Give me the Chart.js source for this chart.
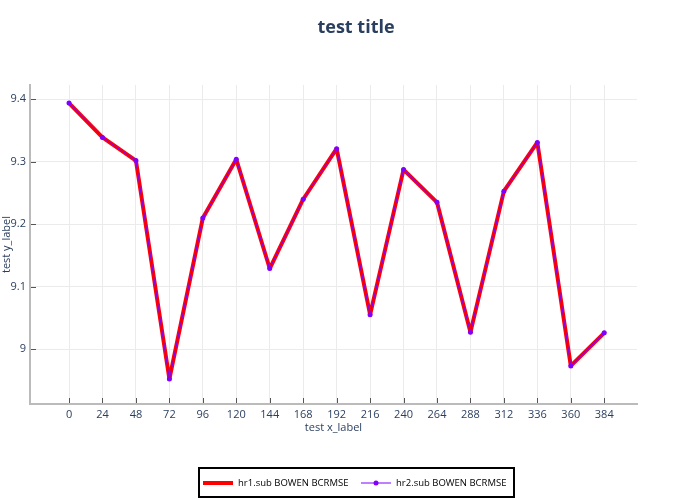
<!DOCTYPE html>
<html>
<head>
<meta charset="utf-8">
<script src="https://cdn.jsdelivr.net/npm/chart.js@4/dist/chart.umd.min.js"></script>
<style>
html,body{margin:0;padding:0;background:#fff;}
#wrap{width:700px;height:500px;position:relative;}
</style>
</head>
<body>
<div id="wrap"><canvas id="c" width="700" height="500"></canvas></div>
<script>
const xValues = [0, 24, 48, 72, 96, 120, 144, 168, 192, 216, 240, 264, 288, 312, 336, 360, 384];
const hr1Values = [9.394, 9.339, 9.302, 8.952, 9.210, 9.304, 9.129, 9.240, 9.321, 9.055, 9.2875, 9.235, 9.027, 9.253, 9.331, 8.973, 9.026];
const hr2Values = [9.394, 9.339, 9.302, 8.952, 9.210, 9.304, 9.129, 9.240, 9.321, 9.055, 9.2875, 9.235, 9.027, 9.253, 9.331, 8.973, 9.026];
const xTicks = [0, 24, 48, 72, 96, 120, 144, 168, 192, 216, 240, 264, 288, 312, 336, 360, 384];
const yTicks = [9, 9.1, 9.2, 9.3, 9.4];
const seriesNames = ["hr1.sub BOWEN BCRMSE", "hr2.sub BOWEN BCRMSE"];
const titleText = "test title";
const xLabel = "test x_label";
const yLabel = "test y_label";

const FONT = "'Open Sans', 'DejaVu Sans', sans-serif";
const TXT = "#2a3f5f";
const RED = "#ff0000";
const PURPLE = "#7f00ff";

const insideTicks = {
  id: 'insideTicks',
  afterDraw(chart) {
    const ctx = chart.ctx, a = chart.chartArea;
    const xs = chart.scales.x, ys = chart.scales.y;
    ctx.save();
    ctx.strokeStyle = '#555';
    ctx.lineWidth = 1;
    ctx.beginPath();
    xTicks.forEach(v => { const p = Math.round(xs.getPixelForValue(v)) + 0.5; ctx.moveTo(p, a.bottom - 1); ctx.lineTo(p, a.bottom - 6); });
    yTicks.forEach(v => { const p = Math.round(ys.getPixelForValue(v)) + 0.5; ctx.moveTo(a.left + 1, p); ctx.lineTo(a.left + 6, p); });
    ctx.stroke();
    ctx.restore();
  }
};

const titleAndLegend = {
  id: 'titleAndLegend',
  afterDraw(chart) {
    const ctx = chart.ctx;
    ctx.save();
    // title
    ctx.fillStyle = TXT;
    ctx.font = "bold 18px " + FONT;
    ctx.textAlign = 'center';
    ctx.textBaseline = 'middle';
    ctx.fillText(titleText, 356, 27.5);
    // legend box
    const L = 198, T = 467, W = 317, H = 31;
    ctx.fillStyle = '#fff';
    ctx.fillRect(L, T, W, H);
    ctx.strokeStyle = '#000';
    ctx.lineWidth = 2;
    ctx.strokeRect(L + 1, T + 1, W - 2, H - 2);
    const cy = T + H / 2 + 0.5;
    const items = [
      {x: 203, color: RED, lw: 4, r: 2, text: seriesNames[0]},
      {x: 361, color: PURPLE, lw: 1, r: 2.5, text: seriesNames[1]}
    ];
    ctx.font = "9.5px " + FONT;
    ctx.textAlign = 'left';
    items.forEach(it => {
      ctx.strokeStyle = it.color;
      ctx.lineWidth = it.lw;
      ctx.beginPath();
      ctx.moveTo(it.x, cy); ctx.lineTo(it.x + 30, cy);
      ctx.stroke();
      ctx.fillStyle = it.color;
      ctx.beginPath();
      ctx.arc(it.x + 15, cy, it.r, 0, Math.PI * 2);
      ctx.fill();
      ctx.fillStyle = '#000';
      ctx.fillText(it.text, it.x + 35, cy);
    });
    ctx.restore();
  }
};

const toPts = (ys) => xValues.map((x, i) => ({x: x, y: ys[i]}));

new Chart(document.getElementById('c'), {
  type: 'line',
  data: {
    datasets: [
      {
        label: seriesNames[0],
        data: toPts(hr1Values),
        borderColor: RED,
        backgroundColor: RED,
        borderWidth: 4,
        borderJoinStyle: 'bevel',
        pointRadius: 2,
        pointBorderWidth: 0,
        pointBackgroundColor: RED,
        tension: 0,
        fill: false,
        order: 2
      },
      {
        label: seriesNames[1],
        data: toPts(hr2Values),
        borderColor: PURPLE,
        backgroundColor: PURPLE,
        borderWidth: 1,
        borderJoinStyle: 'bevel',
        pointRadius: 2.5,
        pointBorderWidth: 0,
        pointBackgroundColor: PURPLE,
        tension: 0,
        fill: false,
        order: 1
      }
    ]
  },
  options: {
    responsive: false,
    animation: false,
    devicePixelRatio: 1,
    layout: { padding: { left: 0, right: 63, top: 85, bottom: 66 } },
    plugins: {
      legend: { display: false },
      tooltip: { enabled: false },
      title: { display: false }
    },
    scales: {
      x: {
        type: 'linear',
        min: -28,
        max: 407.5,
        afterBuildTicks: (s) => { s.ticks = xTicks.map(v => ({value: v})); },
        afterFit: (s) => { s.height = 30; },
        grid: { color: '#ebebeb', lineWidth: 1, drawTicks: false },
        border: { color: '#bbbbbb', width: 2 },
        ticks: {
          color: TXT, padding: 4, maxRotation: 0, autoSkip: false,
          font: { family: FONT, size: 11 },
          callback: (v) => String(v)
        },
        title: {
          display: true, text: xLabel, color: TXT,
          font: { family: FONT, size: 11 }, padding: { top: 0, bottom: 0 }
        }
      },
      y: {
        type: 'linear',
        min: 8.912,
        max: 9.423,
        afterBuildTicks: (s) => { s.ticks = yTicks.map(v => ({value: v})); },
        afterFit: (s) => { s.width = 30; },
        grid: { color: '#ebebeb', lineWidth: 1, drawTicks: false },
        border: { color: '#bbbbbb', width: 2 },
        ticks: {
          color: TXT, padding: 4, autoSkip: false,
          font: { family: FONT, size: 11 },
          callback: (v) => String(Math.round(v * 10) / 10)
        },
        title: {
          display: true, text: yLabel, color: TXT,
          font: { family: FONT, size: 11 }, padding: { top: 0, bottom: 0 }
        }
      }
    }
  },
  plugins: [insideTicks, titleAndLegend]
});
</script>
</body>
</html>
